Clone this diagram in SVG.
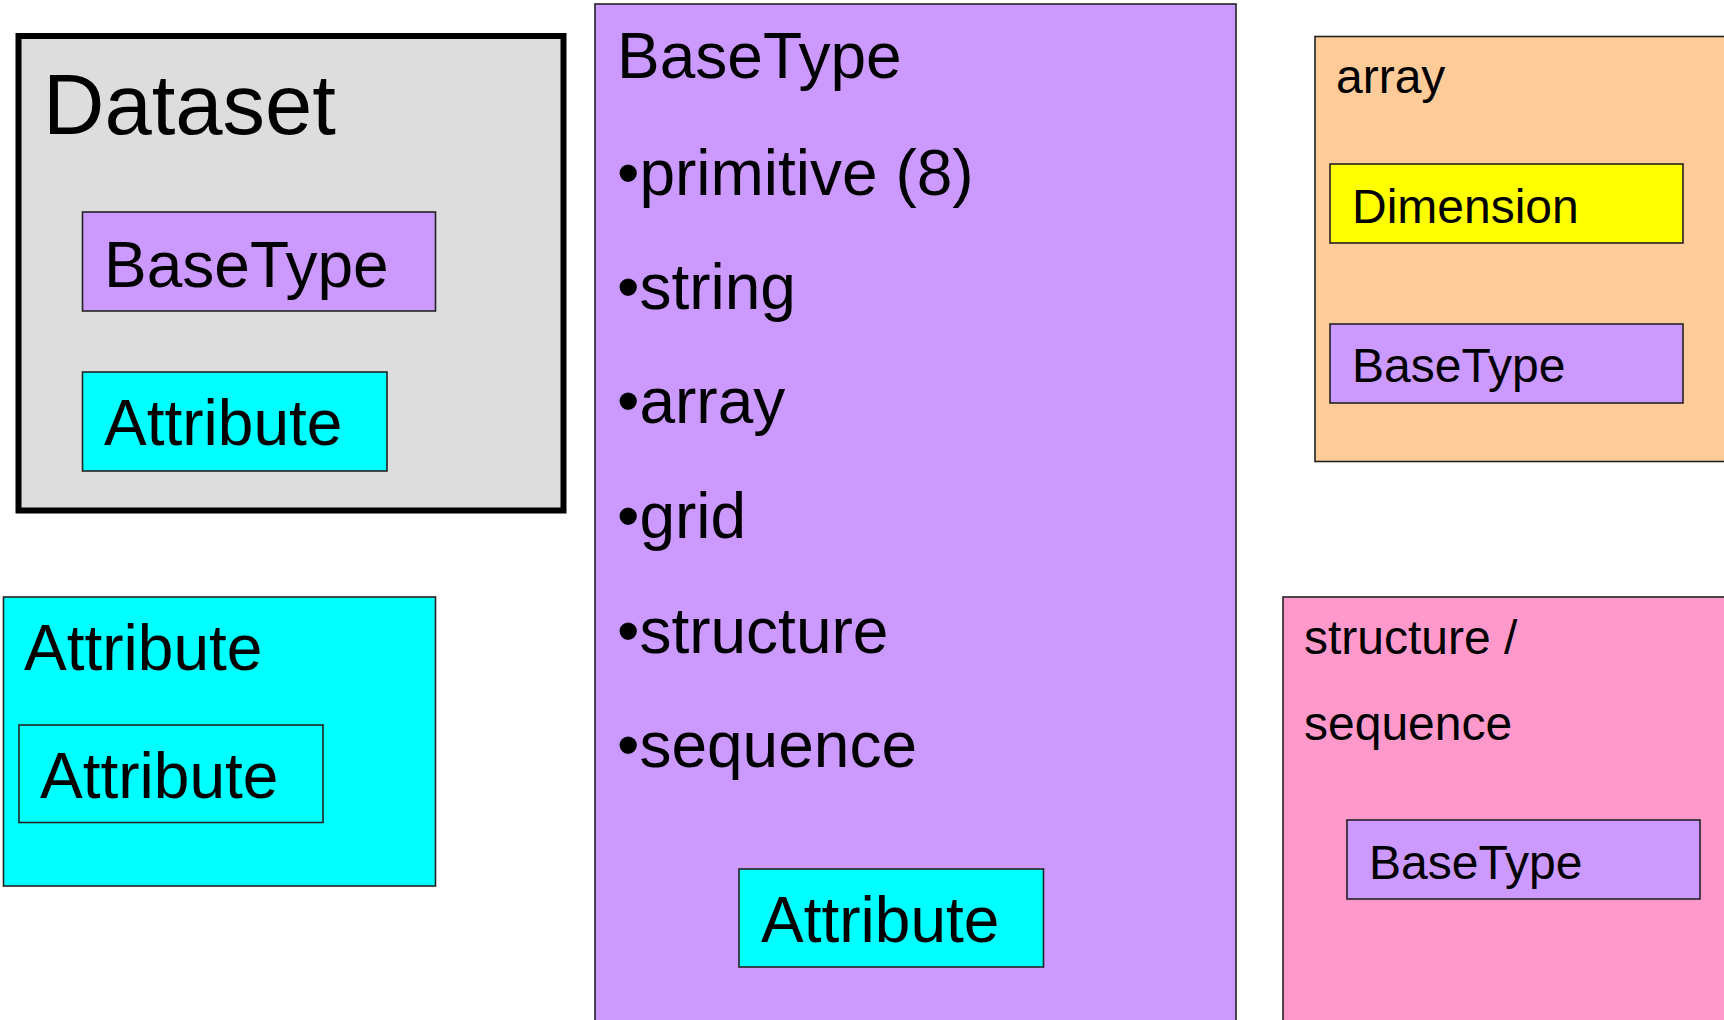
<svg xmlns="http://www.w3.org/2000/svg" width="1724" height="1020" viewBox="0 0 1724 1020">
<style>
text{font-family:"Liberation Sans",Arial,sans-serif;fill:#000}
.big{font-size:64px}
.sm{font-size:48px}
.b{stroke:#222;stroke-width:1.6}
.gray{fill:#dddddd}
.purple{fill:#cc99ff}
.cyan{fill:#00ffff}
.orange{fill:#ffcc99}
.yellow{fill:#ffff00}
.pink{fill:#ff99cc}
</style>
<rect width="1724" height="1020" fill="#fff"/>
<g id="dataset">
<rect x="18.5" y="36" width="545" height="474.5" class="gray" stroke="#000" stroke-width="6"/>
<text x="43" y="134" style="font-size:85px">Dataset</text>
<g id="dataset-basetype">
<rect x="82.5" y="212" width="353" height="99" class="purple b"/>
<text x="104" y="287" class="big">BaseType</text>
</g>
<g id="dataset-attribute">
<rect x="82.5" y="372" width="304.5" height="99" class="cyan b"/>
<text x="104" y="445" class="big">Attribute</text>
</g>
</g>
<g id="basetype">
<rect x="595" y="4" width="641" height="1030" class="purple b"/>
<text x="617" y="78" class="big">BaseType</text>
<text x="617" y="195" class="big">•primitive (8)</text>
<text x="617" y="309" class="big">•string</text>
<text x="617" y="423" class="big">•array</text>
<text x="617" y="538" class="big">•grid</text>
<text x="617" y="653" class="big">•structure</text>
<text x="617" y="767" class="big">•sequence</text>
<g id="basetype-attribute">
<rect x="739" y="869" width="304.5" height="98" class="cyan b"/>
<text x="761" y="942" class="big">Attribute</text>
</g>
</g>
<g id="attribute">
<rect x="3.5" y="597" width="432" height="289" class="cyan b"/>
<text x="24" y="670" class="big">Attribute</text>
<g id="attribute-attribute">
<rect x="19" y="725" width="304" height="97.5" class="cyan b"/>
<text x="40" y="798" class="big">Attribute</text>
</g>
</g>
<g id="array">
<rect x="1315" y="36.5" width="420" height="425" class="orange b"/>
<text x="1336" y="93" class="sm">array</text>
<g id="array-dimension">
<rect x="1330" y="164" width="353" height="79" class="yellow b"/>
<text x="1352" y="223" class="sm">Dimension</text>
</g>
<g id="array-basetype">
<rect x="1330" y="324" width="353" height="79" class="purple b"/>
<text x="1352" y="382" class="sm">BaseType</text>
</g>
</g>
<g id="structure">
<rect x="1283" y="597" width="450" height="440" class="pink b"/>
<text x="1304" y="654" class="sm">structure /</text>
<text x="1304" y="740" class="sm">sequence</text>
<g id="structure-basetype">
<rect x="1347" y="820" width="353" height="79" class="purple b"/>
<text x="1369" y="879" class="sm">BaseType</text>
</g>
</g>
<g id="connectors"></g>
</svg>
